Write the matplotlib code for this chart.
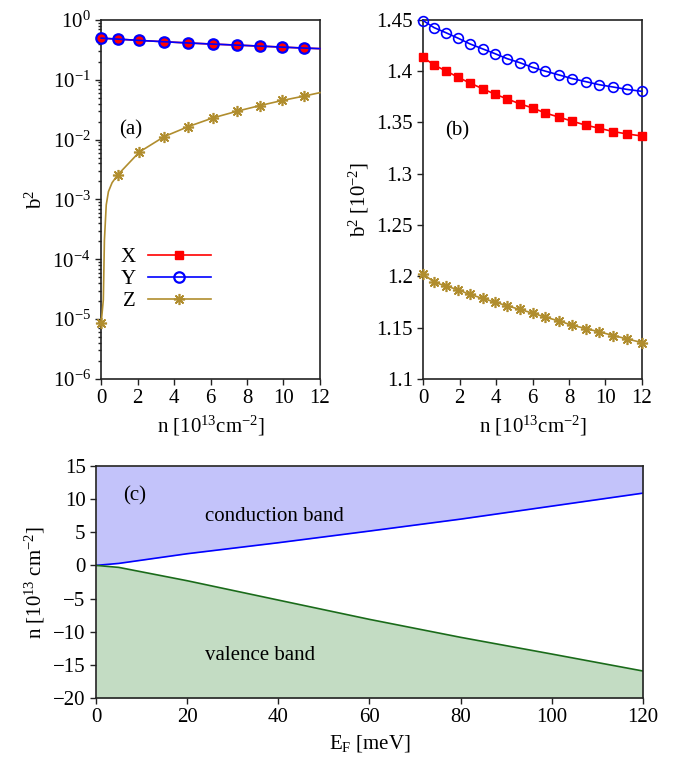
import numpy as np
import matplotlib.pyplot as plt
from matplotlib.ticker import LogLocator, NullFormatter

plt.rcParams['font.family'] = 'Liberation Serif'
plt.rcParams['mathtext.fontset'] = 'custom'
plt.rcParams['mathtext.rm'] = 'Liberation Serif'
plt.rcParams['mathtext.it'] = 'Liberation Serif:italic'
plt.rcParams['font.size'] = 14

RED = '#ff0000'
BLUE = '#0000ff'
GOLD = '#b08d2e'
STAR = (8, 2, 0)

# (a) b^2 vs n on a log scale
n_a = [0, 0.9, 2.1, 3.46, 4.79, 6.13, 7.45, 8.7, 9.94, 11.15, 12]
x_a = [0.494, 0.476, 0.453, 0.43, 0.41, 0.393, 0.378, 0.364, 0.35, 0.337, 0.33]
y_a = [0.494, 0.476, 0.453, 0.43, 0.41, 0.393, 0.378, 0.364, 0.35, 0.337, 0.33]
n_az = [0, 0.12, 0.18, 0.28, 0.4, 0.6, 0.9, 2.1, 3.46, 4.79, 6.13, 7.45, 8.7, 9.94,
        11.15, 12]
z_a = [8.5e-6, 2.1e-5, 2.1e-4, 8.1e-4, 1.35e-3, 1.9e-3, 2.55e-3, 6.2e-3, 1.12e-2,
       1.65e-2, 2.3e-2, 2.97e-2, 3.69e-2, 4.5e-2, 5.34e-2, 6.07e-2]

# (b) b^2 [10^-2] vs n
n_b = [0, 0.6, 1.28, 1.94, 2.56, 3.26, 3.93, 4.6, 5.31, 6.01, 6.7, 7.43, 8.16, 8.91,
       9.65, 10.43, 11.18, 12]
x_b = [1.4135, 1.4059, 1.4000, 1.3938, 1.3885, 1.3829, 1.3776, 1.3730, 1.3681, 1.3641,
       1.3592, 1.3553, 1.3513, 1.3474, 1.3444, 1.3411, 1.3388, 1.3368]
y_b = [1.4493, 1.4424, 1.4372, 1.4319, 1.4266, 1.4217, 1.4171, 1.4122, 1.4082, 1.4036,
       1.4000, 1.3964, 1.3928, 1.3898, 1.3868, 1.3845, 1.3822, 1.3803]
z_b = [1.2027, 1.1942, 1.1906, 1.1867, 1.1825, 1.1786, 1.1750, 1.1714, 1.1678, 1.1642,
       1.1603, 1.1567, 1.1525, 1.1492, 1.1460, 1.1424, 1.1391, 1.1355]

# (c) carrier density vs Fermi energy
ef = [0, 5, 20, 40, 60, 80, 100, 120]
n_cond = [0, 0.3, 1.76, 3.42, 5.18, 6.98, 8.94, 10.9]
n_val = [0, -0.3, -2.31, -5.23, -8.14, -10.85, -13.37, -15.93]


def style_axes(ax):
    for s in ax.spines.values():
        s.set_linewidth(1.2)
        s.set_color('#222222')
    ax.tick_params(which='both', direction='out', top=False, right=False,
                   width=1.0, color='#222222', labelsize=15)
    ax.tick_params(which='major', length=4)
    ax.tick_params(which='minor', length=2)


fig = plt.figure(figsize=(6.88, 7.62), dpi=100)
ax_a = fig.add_axes([0.147, 0.5026, 0.318, 0.4714])
ax_b = fig.add_axes([0.615, 0.5026, 0.318, 0.4714])
ax_c = fig.add_axes([0.1395, 0.084, 0.795, 0.3045])

# panel (a)
ax_a.plot(n_a, x_a, color=RED, lw=1.2, marker='s', ms=6, markevery=list(range(10)),
          label='X', clip_on=False, zorder=3)
ax_a.plot(n_a, y_a, color=BLUE, lw=1.2, marker='o', ms=7.5, mfc='none', mew=1.6,
          markevery=list(range(10)), label='Y', clip_on=False, zorder=4)
ax_a.plot(n_az, z_a, color=GOLD, lw=1.2, marker=STAR, ms=8, mew=1.2,
          markevery=[0] + list(range(6, 15)), label='Z', clip_on=False, zorder=3)
ax_a.set_yscale('log')
ax_a.set_xlim(0, 12)
ax_a.set_ylim(1e-6, 1)
ax_a.set_xticks(range(0, 13, 2))
ax_a.yaxis.set_major_locator(LogLocator(base=10, numticks=10))
ax_a.yaxis.set_minor_locator(LogLocator(base=10, subs=np.arange(2, 10), numticks=10))
ax_a.yaxis.set_minor_formatter(NullFormatter())
ax_a.set_xlabel(r'n [10$^{13}$cm$^{-2}$]', fontsize=15)
ax_a.set_ylabel(r'b$^2$', fontsize=15)
ax_a.text(1.0, 1.2e-2, '(a)', fontsize=15)
leg_a = ax_a.legend(loc='upper left', bbox_to_anchor=(0.05, 0.39), frameon=False,
                    markerfirst=False, handlelength=3.0, labelspacing=0.12,
                    handletextpad=0.6, fontsize=15, borderaxespad=0)
style_axes(ax_a)

# panel (b)
ax_b.plot(n_b, x_b, color=RED, lw=1.2, marker='s', ms=6, clip_on=False, zorder=3)
ax_b.plot(n_b, y_b, color=BLUE, lw=1.2, marker='o', ms=7, mfc='none', mew=1.2,
          clip_on=False, zorder=3)
ax_b.plot(n_b, z_b, color=GOLD, lw=1.2, marker=STAR, ms=8, mew=1.2, clip_on=False,
          zorder=3)
ax_b.set_xlim(0, 12)
ax_b.set_ylim(1.1, 1.45)
ax_b.set_xticks(range(0, 13, 2))
ax_b.set_yticks([1.1, 1.15, 1.2, 1.25, 1.3, 1.35, 1.4, 1.45])
ax_b.set_yticklabels(['1.1', '1.15', '1.2', '1.25', '1.3', '1.35', '1.4', '1.45'])
ax_b.set_xlabel(r'n [10$^{13}$cm$^{-2}$]', fontsize=15)
ax_b.set_ylabel(r'b$^2$ [10$^{-2}$]', fontsize=15)
ax_b.text(1.2, 1.337, '(b)', fontsize=15)
style_axes(ax_b)

# panel (c)
ax_c.fill_between(ef, n_cond, 15, color='#c3c3fa', lw=0)
ax_c.fill_between(ef, -20, n_val, color='#c3dcc3', lw=0)
ax_c.plot(ef, n_cond, color=BLUE, lw=1.2)
ax_c.plot(ef, n_val, color='#1a6b1a', lw=1.2)
ax_c.set_xlim(0, 120)
ax_c.set_ylim(-20, 15)
ax_c.set_xticks(range(0, 121, 20))
ax_c.set_yticks(range(-20, 16, 5))
ax_c.set_xlabel(r'E$_\mathrm{F}$ [meV]', fontsize=15)
ax_c.set_ylabel(r'n [10$^{13}$ cm$^{-2}$]', fontsize=15)
ax_c.text(6, 9.8, '(c)', fontsize=15)
ax_c.text(24, 6.75, 'conduction band', fontsize=15)
ax_c.text(24, -14.25, 'valence band', fontsize=15)
style_axes(ax_c)

fig.savefig('out.png', dpi=100)
